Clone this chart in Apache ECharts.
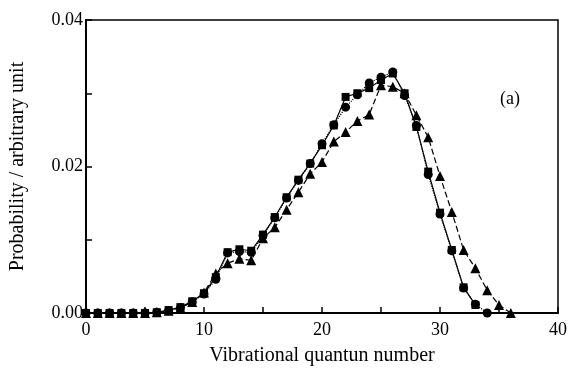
<!DOCTYPE html>
<html>
<head>
<meta charset="utf-8">
<script src="https://cdn.jsdelivr.net/npm/echarts@6/dist/echarts.min.js"></script>
<style>
  html, body { margin: 0; padding: 0; background: #fff; }
  #chart { width: 570px; height: 369px; }
</style>
</head>
<body>
<div id="chart"></div>
<script>
// vibrational quantum number v = 0..36
var levels = [];
for (var i = 0; i <= 36; i++) levels.push(i);

var squares = [0, 0, 0, 0, 0, 0, 0.0001, 0.0004, 0.0008, 0.0016, 0.0027, 0.0049, 0.0083, 0.0087, 0.0085,
  0.0107, 0.0131, 0.0158, 0.0182, 0.0204, 0.0229, 0.0256, 0.0295, 0.0300, 0.0307, 0.0318, 0.0327,
  0.0300, 0.0254, 0.0193, 0.0137, 0.0086, 0.0035, 0.0011];
var circles = [0, 0, 0, 0, 0, 0, 0.0001, 0.0003, 0.0007, 0.0015, 0.0026, 0.0046, 0.0082, 0.0084, 0.0083,
  0.0106, 0.0130, 0.0157, 0.0181, 0.0204, 0.0231, 0.0257, 0.0281, 0.0298, 0.0314, 0.0322, 0.0329,
  0.0297, 0.0256, 0.0189, 0.0135, 0.0085, 0.0034, 0.0012, 0];
var triangles = [0, 0, 0, 0, 0, 0, 0.0001, 0.0003, 0.0007, 0.0015, 0.0028, 0.0054, 0.0068, 0.0074, 0.0072,
  0.0102, 0.0117, 0.0141, 0.0165, 0.0190, 0.0206, 0.0234, 0.0247, 0.0262, 0.0271, 0.0311, 0.0309,
  0.0300, 0.0270, 0.0240, 0.0187, 0.0138, 0.0086, 0.0061, 0.0031, 0.0011, 0];

function pairs(arr) {
  return arr.map(function (p, k) { return [levels[k], p]; });
}

var font = 'Liberation Serif, Times New Roman, serif';
var myChart = echarts.init(document.getElementById('chart'));

var option = {
  animation: false,
  grid: {
    left: 86, right: 12, top: 20, bottom: 56,
    outerBoundsMode: 'none',
    containLabel: false,
    show: true, borderColor: '#000', borderWidth: 1.5
  },
  xAxis: {
    type: 'value',
    min: 0, max: 40, interval: 5,
    name: 'Vibrational quantun number',
    nameLocation: 'middle', nameGap: 33,
    nameTextStyle: { fontFamily: font, fontSize: 20, color: '#000' },
    axisLine: { onZero: false, lineStyle: { color: '#000', width: 2 } },
    axisTick: { inside: true, length: 6, lineStyle: { color: '#000', width: 1.5 } },
    axisLabel: {
      fontFamily: font, fontSize: 18, color: '#000', margin: 8,
      formatter: function (v) { return v % 10 === 0 ? String(v) : ''; }
    },
    splitLine: { show: false }
  },
  yAxis: {
    type: 'value',
    min: 0, max: 0.04, interval: 0.01,
    name: 'Probability / arbitrary unit',
    nameLocation: 'middle', nameGap: 58,
    nameTextStyle: { fontFamily: font, fontSize: 20, color: '#000' },
    axisLine: { show: true, lineStyle: { color: '#000', width: 2 } },
    axisTick: { inside: true, length: 6, lineStyle: { color: '#000', width: 1.5 } },
    axisLabel: {
      fontFamily: font, fontSize: 18, color: '#000', margin: 3,
      formatter: function (v) {
        return Math.round(v * 100) % 2 === 0 ? v.toFixed(2) : '';
      }
    },
    splitLine: { show: false }
  },
  graphic: [{
    type: 'text', left: 500, top: 90,
    style: { text: '(a)', font: '18px ' + font, fill: '#000' }
  }],
  series: [
    {
      name: 'squares', type: 'line', data: pairs(squares),
      symbol: 'rect', symbolSize: 8,
      itemStyle: { color: '#000' },
      lineStyle: { color: '#000', width: 1.2, type: 'solid' }
    },
    {
      name: 'circles', type: 'line', data: pairs(circles),
      symbol: 'circle', symbolSize: 9,
      itemStyle: { color: '#000' },
      lineStyle: { color: '#000', width: 1.2, type: 'dotted' }
    },
    {
      name: 'triangles', type: 'line', data: pairs(triangles),
      symbol: 'triangle', symbolSize: 10,
      itemStyle: { color: '#000' },
      lineStyle: { color: '#000', width: 1.2, type: [6, 3] }
    }
  ]
};
myChart.setOption(option);
</script>
</body>
</html>
